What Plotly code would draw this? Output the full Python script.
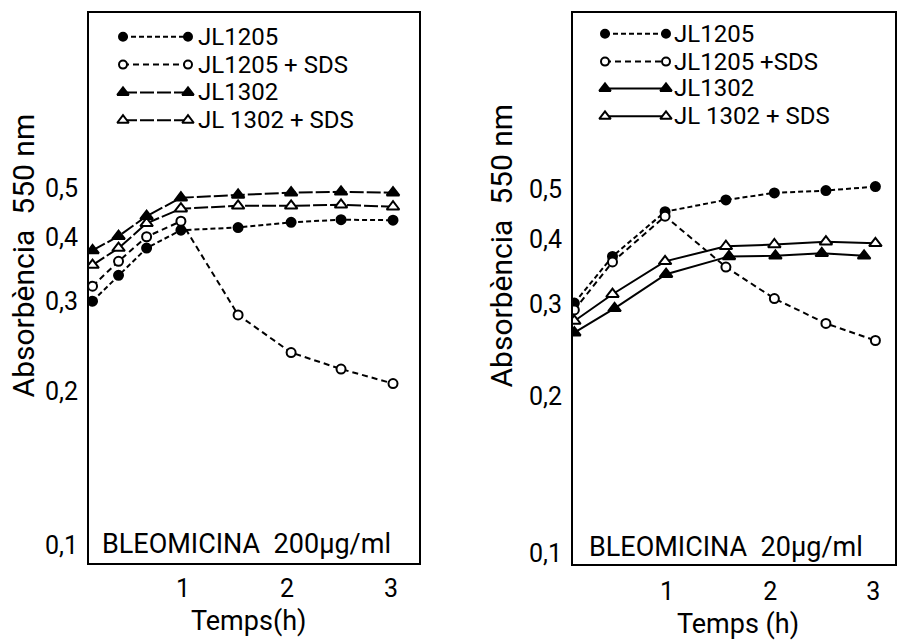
import plotly.graph_objects as go

# ---- data: absorbance at 550 nm versus time (h), bleomycin treatment ----
# Panel A: bleomycin 200 ug/ml
time_200 = [0.13, 0.38, 0.65, 0.98, 1.53, 2.04, 2.52, 3.02]
jl1205_200 = [0.300, 0.337, 0.381, 0.413, 0.418, 0.428, 0.433, 0.432]
jl1205_sds_200 = [0.321, 0.359, 0.401, 0.430, 0.282, 0.238, 0.221, 0.207]
jl1302_200 = [0.377, 0.402, 0.440, 0.478, 0.484, 0.489, 0.491, 0.489]
jl1302_sds_200 = [0.353, 0.381, 0.426, 0.455, 0.461, 0.461, 0.463, 0.459]

# Panel B: bleomycin 20 ug/ml
time_20 = [0.10, 0.47, 0.98, 1.57, 2.04, 2.54, 3.02]
time_20_jl1302 = [0.10, 0.49, 0.99, 1.60, 2.05, 2.50, 2.91]
jl1205_20 = [0.302, 0.371, 0.452, 0.476, 0.491, 0.496, 0.505]
jl1205_sds_20 = [0.293, 0.362, 0.443, 0.354, 0.308, 0.276, 0.256]
jl1302_20 = [0.265, 0.295, 0.343, 0.371, 0.372, 0.376, 0.372]
jl1302_sds_20 = [0.279, 0.314, 0.363, 0.388, 0.391, 0.396, 0.393]

y_tick_vals = [0.1, 0.2, 0.3, 0.4, 0.5]
y_tick_text = ["0,1", "0,2", "0,3", "0,4", "0,5"]
x_tick_vals = [1, 2, 3]
x_tick_text = ["1", "2", "3"]

legend_names_200 = ["JL1205", "JL1205 + SDS", "JL1302", "JL 1302 + SDS"]
legend_names_20 = ["JL1205", "JL1205 +SDS", "JL1302", "JL 1302 + SDS"]

# ---- styling ----
W, H = 897, 643
FONT = "Roboto, 'DejaVu Sans Condensed', 'Liberation Sans Narrow', sans-serif"
INK = "black"

STYLES = {
    "JL1205": dict(symbol="circle", size=9, fill=INK, dash="5px,3px"),
    "JL1205 + SDS": dict(symbol="circle", size=9, fill="white", dash="6px,4px"),
    "JL1302": dict(symbol="triangle-up", size=11, fill=INK, dash="14px,3px"),
    "JL1302 + SDS": dict(symbol="triangle-up", size=11, fill="white", dash="14px,3px"),
}


def series_trace(x, y, key, xa, ya, dash=None):
    st = STYLES[key]
    return go.Scatter(
        x=x, y=y, mode="lines+markers", xaxis=xa, yaxis=ya,
        line=dict(color=INK, width=2, dash=dash or st["dash"]),
        marker=dict(symbol=st["symbol"], size=st["size"], color=st["fill"],
                    line=dict(color=INK, width=2)),
        showlegend=False, hoverinfo="skip",
    )


fig = go.Figure()

# panel A
fig.add_trace(series_trace(time_200, jl1205_200, "JL1205", "x", "y"))
fig.add_trace(series_trace(time_200, jl1205_sds_200, "JL1205 + SDS", "x", "y"))
fig.add_trace(series_trace(time_200, jl1302_sds_200, "JL1302 + SDS", "x", "y"))
fig.add_trace(series_trace(time_200, jl1302_200, "JL1302", "x", "y"))

# panel B
fig.add_trace(series_trace(time_20, jl1205_20, "JL1205", "x2", "y2"))
fig.add_trace(series_trace(time_20, jl1205_sds_20, "JL1205 + SDS", "x2", "y2"))
fig.add_trace(series_trace(time_20, jl1302_sds_20, "JL1302 + SDS", "x2", "y2", dash="solid"))
fig.add_trace(series_trace(time_20_jl1302, jl1302_20, "JL1302", "x2", "y2", dash="solid"))


# legend keys with a marker at each end of the line sample,
# drawn on a pixel-space overlay axis
def legend_block(names, keys, x_start, x_end, x_text, rows, solid_tri):
    for name, key, yrow in zip(names, keys, rows):
        st = STYLES[key]
        dash = st["dash"]
        if solid_tri and key.startswith("JL1302"):
            dash = "solid"
        fig.add_trace(go.Scatter(
            x=[x_start, x_end], y=[yrow, yrow], mode="lines+markers",
            xaxis="x3", yaxis="y3",
            line=dict(color=INK, width=2, dash=dash),
            marker=dict(symbol=st["symbol"], size=st["size"] - 1, color=st["fill"],
                        line=dict(color=INK, width=2)),
            showlegend=False, hoverinfo="skip",
        ))
        fig.add_annotation(x=x_text, y=yrow, xref="x3", yref="y3", text=name,
                           showarrow=False, xanchor="left", yanchor="middle",
                           font=dict(family=FONT, size=24, color=INK))


keys = ["JL1205", "JL1205 + SDS", "JL1302", "JL1302 + SDS"]
legend_block(legend_names_200, keys, 123, 188, 196, [37, 65, 93, 121], False)
legend_block(legend_names_20, keys, 605, 666, 672, [34, 62, 89, 117], True)

# panel geometry (pixels)
A = dict(x0=89, x1=419, y0=13, y1=567)
B = dict(x0=573, x1=895, y0=13, y1=568)

axis_common = dict(showline=True, mirror=True, linecolor=INK, linewidth=2,
                   showgrid=False, zeroline=False, ticks="",
                   tickfont=dict(family=FONT, size=25, color=INK))

fig.update_layout(
    width=W, height=H,
    margin=dict(l=0, r=0, t=0, b=0),
    paper_bgcolor="white", plot_bgcolor="rgba(0,0,0,0)",
    showlegend=False,
    xaxis=dict(domain=[A["x0"] / W, A["x1"] / W], anchor="y", range=[0.096, 3.27],
               tickvals=x_tick_vals, ticktext=x_tick_text, ticklabelstandoff=2,
               **axis_common),
    yaxis=dict(domain=[1 - A["y1"] / H, 1 - A["y0"] / H], anchor="x", type="log",
               range=[-1.036, 0.041], tickvals=y_tick_vals, ticktext=y_tick_text,
               ticklabelstandoff=4, **axis_common),
    xaxis2=dict(domain=[B["x0"] / W, B["x1"] / W], anchor="y2", range=[0.087, 3.21],
                tickvals=x_tick_vals, ticktext=x_tick_text, ticklabelstandoff=4,
                **axis_common),
    yaxis2=dict(domain=[1 - B["y1"] / H, 1 - B["y0"] / H], anchor="x2", type="log",
                range=[-1.021, 0.036], tickvals=y_tick_vals, ticktext=y_tick_text,
                ticklabelstandoff=4, **axis_common),
    xaxis3=dict(domain=[0, 1], anchor="y3", range=[0, W], visible=False),
    yaxis3=dict(domain=[0, 1], anchor="x3", range=[H, 0], visible=False),
)

label_font = dict(family=FONT, size=27, color=INK)
title_font = dict(family=FONT, size=30, color=INK)

# axis titles and treatment labels
for xc, yc in [(23, 257), (501, 247)]:
    fig.add_annotation(x=xc, y=yc, xref="x3", yref="y3", text="Absorbència  550 nm",
                       textangle=-90, showarrow=False, font=title_font)
fig.add_annotation(x=248, y=625, xref="x3", yref="y3", text="Temps(h)",
                   showarrow=False, font=label_font)
fig.add_annotation(x=738, y=628, xref="x3", yref="y3", text="Temps (h)",
                   showarrow=False, font=label_font)
fig.add_annotation(x=100, y=547, xref="x3", yref="y3", text="BLEOMICINA  200µg/ml",
                   showarrow=False, xanchor="left", font=label_font)
fig.add_annotation(x=587, y=550, xref="x3", yref="y3", text="BLEOMICINA  20µg/ml",
                   showarrow=False, xanchor="left", font=label_font)

fig.write_html("out.html")
